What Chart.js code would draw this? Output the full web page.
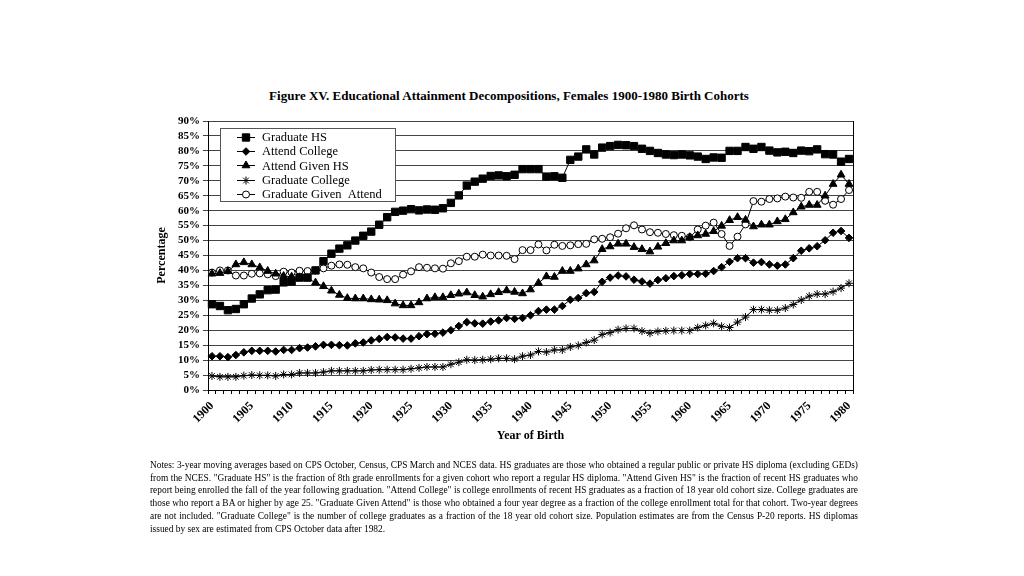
<!DOCTYPE html>
<html>
<head>
<meta charset="utf-8">
<script src="https://cdn.jsdelivr.net/npm/chart.js@4"></script>
<style>
  body { margin: 0; background: #fff; width: 1024px; height: 576px; overflow: hidden; position: relative; }
  #chart { position: absolute; left: 0; top: 0; }
  .title { position: absolute; left: 0; width: 1018px; top: 88px; text-align: center;
           font: bold 13px "Liberation Serif", serif; color: #000; }
  .notes { position: absolute; left: 150px; top: 459px; width: 708px;
           font: 9.4px "Liberation Serif", serif; line-height: 12.7px; color: #000; }
  .notes div { text-align: justify; text-align-last: justify; white-space: nowrap; }
  .notes div.last { text-align-last: left; }
</style>
</head>
<body>
<div class="title">Figure XV. Educational Attainment Decompositions, Females 1900-1980 Birth Cohorts</div>
<canvas id="chart" width="1024" height="576"></canvas>
<div class="notes">
  <div>Notes: 3-year moving averages based on CPS October, Census, CPS March and NCES data. HS graduates are those who obtained a regular public or private HS diploma (excluding GEDs)</div>
  <div>from the NCES. "Graduate HS" is the fraction of 8th grade enrollments for a given cohort who report a regular HS diploma. "Attend Given HS" is the fraction of recent HS graduates who</div>
  <div>report being enrolled the fall of the year following graduation. "Attend College" is college enrollments of recent HS graduates as a fraction of 18 year old cohort size. College graduates are</div>
  <div>those who report a BA or higher by age 25. "Graduate Given Attend" is those who obtained a four year degree as a fraction of the college enrollment total for that cohort. Two-year degrees</div>
  <div>are not included. "Graduate College" is the number of college graduates as a fraction of the 18 year old cohort size. Population estimates are from the Census P-20 reports. HS diplomas</div>
  <div class="last">issued by sex are estimated from CPS October data after 1982.</div>
</div>
<script>
// Birth cohorts 1900..1980
const years = Array.from({ length: 81 }, (_, i) => 1900 + i);

// Percentages
const graduateHS = [
  28.7, 28.1, 26.7, 27.1, 28.7, 30.6, 32.0, 33.4, 33.6, 36.0,
  36.3, 37.6, 37.6, 40.0, 43.1, 45.6, 47.3, 48.4, 50.0, 51.6,
  53.0, 55.3, 57.8, 59.6, 60.0, 60.5, 60.1, 60.4, 60.3, 60.8,
  62.6, 65.1, 68.4, 69.7, 70.7, 71.6, 71.8, 71.5, 72.0, 73.9,
  73.9, 73.9, 71.4, 71.5, 71.0, 77.0, 78.1, 80.5, 78.8, 81.1,
  81.6, 82.0, 81.9, 81.6, 80.7, 80.0, 79.3, 78.8, 78.6, 78.8,
  78.5, 78.1, 77.3, 77.8, 77.7, 80.0, 80.0, 81.3, 80.7, 81.3,
  80.1, 79.5, 79.7, 79.3, 80.1, 79.9, 80.5, 78.9, 78.8, 76.4, 77.3
];
const attendCollege = [
  11.3, 11.3, 11.0, 11.7, 12.6, 13.1, 13.1, 13.1, 12.9, 13.4,
  13.4, 14.0, 14.2, 14.6, 15.1, 15.1, 15.0, 14.9, 15.6, 15.9,
  16.6, 17.1, 17.7, 17.6, 17.2, 17.2, 18.0, 18.7, 18.8, 19.2,
  20.0, 21.4, 22.7, 22.3, 22.2, 22.9, 23.3, 24.1, 23.8, 24.1,
  25.0, 26.4, 26.9, 26.9, 28.1, 30.2, 30.8, 32.4, 32.8, 36.2,
  37.6, 38.3, 38.0, 36.9, 36.3, 35.6, 36.8, 37.4, 38.1, 38.4,
  38.8, 38.8, 38.9, 39.8, 41.1, 42.9, 44.1, 44.1, 42.6, 42.8,
  42.0, 41.6, 42.0, 44.1, 46.6, 47.4, 48.1, 50.1, 52.6, 53.2, 50.9
];
const attendGivenHS = [
  38.9, 39.1, 39.7, 42.0, 42.7, 42.0, 41.0, 39.8, 38.9, 38.1,
  37.9, 37.7, 37.4, 35.9, 34.7, 33.2, 31.8, 30.7, 30.6, 30.6,
  30.3, 30.2, 30.0, 28.9, 28.3, 28.3, 29.3, 30.6, 31.0, 31.0,
  31.7, 32.2, 32.6, 31.7, 31.2, 32.0, 32.7, 33.3, 32.8, 32.3,
  33.6, 35.8, 38.0, 37.8, 39.8, 39.8, 40.6, 42.0, 43.3, 47.1,
  48.0, 48.9, 48.9, 47.8, 47.1, 46.3, 47.9, 49.1, 50.0, 50.0,
  51.1, 51.7, 52.2, 53.1, 54.9, 56.8, 57.8, 56.9, 54.7, 55.3,
  55.3, 56.4, 57.1, 59.4, 61.3, 61.9, 61.9, 65.0, 68.9, 72.0, 68.9
];
const graduateCollege = [
  4.7, 4.4, 4.4, 4.4, 4.8, 5.0, 4.9, 4.9, 4.7, 5.2,
  5.2, 5.7, 5.7, 5.7, 6.0, 6.4, 6.4, 6.4, 6.4, 6.4,
  6.7, 6.8, 6.8, 6.8, 6.8, 7.1, 7.4, 7.7, 7.7, 7.7,
  8.6, 9.3, 10.1, 10.0, 10.1, 10.3, 10.6, 10.6, 10.3, 11.3,
  11.7, 12.9, 12.7, 13.4, 13.4, 14.4, 14.9, 15.9, 16.7, 18.6,
  19.2, 20.2, 20.6, 20.6, 19.7, 19.0, 19.6, 19.8, 19.9, 19.9,
  19.9, 20.9, 21.6, 22.3, 21.3, 20.9, 22.7, 24.4, 26.9, 26.9,
  26.7, 26.7, 27.4, 28.6, 30.1, 31.4, 32.1, 32.1, 32.9, 34.1, 35.7
];
const graduateGivenAttend = [
  39.3, 40.0, 40.0, 38.3, 38.3, 38.9, 39.0, 38.7, 38.1, 39.6,
  39.3, 39.9, 39.8, 40.0, 40.7, 41.6, 42.0, 41.9, 41.1, 40.7,
  39.3, 37.8, 37.1, 37.1, 38.6, 39.7, 41.1, 40.9, 40.7, 40.6,
  42.4, 43.1, 44.6, 44.6, 45.3, 45.0, 45.0, 44.9, 43.8, 46.8,
  46.8, 48.7, 46.7, 48.6, 48.2, 48.4, 48.8, 48.9, 50.4, 50.6,
  51.1, 52.3, 54.1, 55.1, 53.7, 52.8, 52.6, 52.2, 51.8, 51.6,
  51.1, 53.7, 55.0, 56.0, 52.2, 48.2, 51.3, 55.4, 63.2, 63.0,
  63.9, 64.1, 64.7, 64.4, 64.3, 66.3, 66.3, 63.3, 62.0, 63.9, 66.9
];

const serif = '"Liberation Serif", "Times New Roman", serif';

function series(label, data, pointStyle, radius, fill) {
  return {
    label: label,
    data: data,
    borderColor: '#000',
    borderWidth: 1,
    pointStyle: pointStyle,
    pointRadius: radius,
    pointBorderWidth: 1,
    pointBorderColor: '#000',
    pointBackgroundColor: fill,
    tension: 0
  };
}

// Legend box drawn inside the plot, like the original
const boxLegend = {
  id: 'boxLegend',
  afterDatasetsDraw(chart) {
    const { ctx, chartArea } = chart;
    const x0 = Math.round(chartArea.left) + 12, y0 = Math.round(chartArea.top) + 7;
    const w = 175, h = 73;
    ctx.save();
    ctx.fillStyle = '#fff';
    ctx.fillRect(x0, y0, w, h);
    ctx.strokeStyle = '#555';
    ctx.lineWidth = 1;
    ctx.strokeRect(x0 + 0.5, y0 + 0.5, w, h);
    ctx.font = '12.5px ' + serif;
    ctx.textBaseline = 'middle';
    chart.data.datasets.forEach((ds, i) => {
      const y = y0 + 8.5 + i * 14.4;
      ctx.strokeStyle = '#000';
      ctx.beginPath();
      ctx.moveTo(x0 + 17, Math.round(y) + 0.5);
      ctx.lineTo(x0 + 35, Math.round(y) + 0.5);
      ctx.stroke();
      ctx.fillStyle = ds.pointBackgroundColor;
      ctx.strokeStyle = '#000';
      if (Chart.helpers && Chart.helpers.drawPoint) {
        Chart.helpers.drawPoint(ctx, { pointStyle: ds.pointStyle, radius: ds.pointRadius, borderWidth: 1, rotation: 0 }, x0 + 26, Math.round(y) + 0.5);
      }
      ctx.fillStyle = '#000';
      ctx.fillText(ds.label, x0 + 42, y + 1);
    });
    ctx.restore();
  }
};

// Right edge of the plot area
const plotFrame = {
  id: 'plotFrame',
  afterDraw(chart) {
    const { ctx, chartArea } = chart;
    ctx.save();
    ctx.strokeStyle = '#000';
    ctx.lineWidth = 1;
    ctx.beginPath();
    ctx.moveTo(Math.round(chartArea.right) + 0.5, Math.round(chartArea.top));
    ctx.lineTo(Math.round(chartArea.right) + 0.5, Math.round(chartArea.bottom));
    ctx.stroke();
    ctx.restore();
  }
};

new Chart(document.getElementById('chart'), {
  type: 'line',
  data: {
    labels: years,
    datasets: [
      series('Graduate HS', graduateHS, 'rect', 5.2, '#000'),
      series('Attend College', attendCollege, 'rectRot', 3.8, '#000'),
      series('Attend Given HS', attendGivenHS, 'triangle', 4.5, '#000'),
      series('Graduate College', graduateCollege, 'star', 4, '#000'),
      series('Graduate Given  Attend', graduateGivenAttend, 'circle', 3.5, '#fff')
    ]
  },
  options: {
    responsive: false,
    animation: false,
    devicePixelRatio: 1,
    layout: { padding: { left: 151, right: 171, top: 121, bottom: 129 } },
    plugins: {
      legend: { display: false },
      tooltip: { enabled: false }
    },
    scales: {
      x: {
        type: 'category',
        offset: true,
        afterFit(scale) { scale.height = 57; scale.paddingLeft = 0; scale.paddingRight = 0; },
        border: { color: '#000', width: 1 },
        grid: { drawOnChartArea: false, drawTicks: true, tickLength: 4, offset: true, color: '#000' },
        ticks: {
          autoSkip: false,
          minRotation: 45,
          maxRotation: 45,
          padding: 5,
          color: '#000',
          font: { family: serif, size: 12, weight: 'bold' },
          callback: function (value, index) {
            return years[index] % 5 === 0 ? String(years[index]) : '';
          }
        },
        title: {
          display: true,
          text: 'Year of Birth',
          color: '#000',
          font: { family: serif, size: 12, weight: 'bold' }
        }
      },
      y: {
        min: 0,
        max: 90,
        afterFit(scale) { scale.width = 57; scale.paddingTop = 0; scale.paddingBottom = 0; },
        border: { color: '#000', width: 1 },
        grid: { color: '#444', lineWidth: 1, tickLength: 5 },
        ticks: {
          stepSize: 5,
          maxTicksLimit: 30,
          autoSkip: false,
          padding: 3,
          color: '#000',
          font: { family: serif, size: 11, weight: 'bold' },
          callback: function (value) { return value + '%'; }
        },
        title: {
          display: true,
          text: 'Percentage',
          color: '#000',
          font: { family: serif, size: 12, weight: 'bold' }
        }
      }
    }
  },
  plugins: [boxLegend, plotFrame]
});
</script>
</body>
</html>
